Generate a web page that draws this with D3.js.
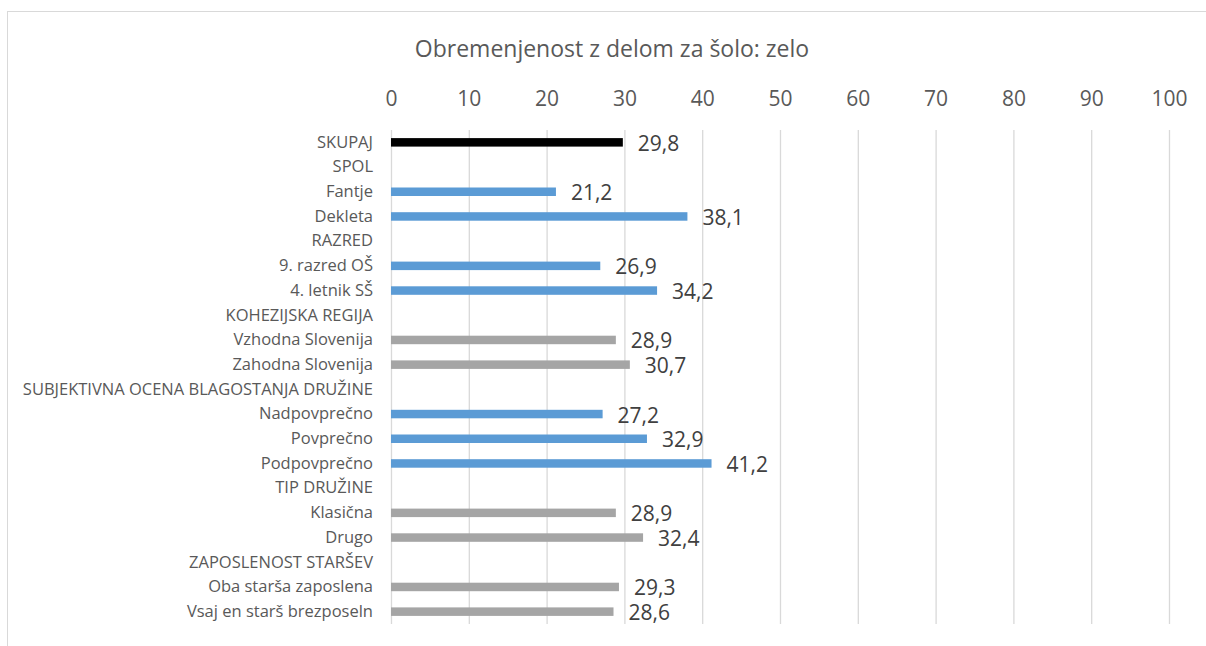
<!DOCTYPE html>
<html>
<head>
<meta charset="utf-8">
<script src="https://cdn.jsdelivr.net/npm/d3@7"></script>
<style>
  body { margin: 0; background: #fff; }
  text { font-family: "Open Sans", sans-serif; }
</style>
</head>
<body>
<script>
var categories = ["SKUPAJ", "SPOL", "Fantje", "Dekleta", "RAZRED", "9. razred OŠ", "4. letnik SŠ",
  "KOHEZIJSKA REGIJA", "Vzhodna Slovenija", "Zahodna Slovenija",
  "SUBJEKTIVNA OCENA BLAGOSTANJA DRUŽINE", "Nadpovprečno", "Povprečno", "Podpovprečno",
  "TIP DRUŽINE", "Klasična", "Drugo", "ZAPOSLENOST STARŠEV", "Oba starša zaposlena", "Vsaj en starš brezposeln"];
var values = [29.8, null, 21.2, 38.1, null, 26.9, 34.2, null, 28.9, 30.7, null, 27.2, 32.9, 41.2, null, 28.9, 32.4, null, 29.3, 28.6];
var groups = ["total", null, "blue", "blue", null, "blue", "blue", null, "gray", "gray", null, "blue", "blue", "blue", null, "gray", "gray", null, "gray", "gray"];
var ticks = [0, 10, 20, 30, 40, 50, 60, 70, 80, 90, 100];

var colors = { total: "#000000", blue: "#5B9BD5", gray: "#A5A5A5" };

var width = 1206, height = 646;
var svg = d3.select("body").append("svg").attr("width", width).attr("height", height);

// chart border
svg.append("rect").attr("x", 7.5).attr("y", 11.5).attr("width", 1210).attr("height", 650)
  .attr("fill", "none").attr("stroke", "#D9D9D9").attr("stroke-width", 1);

svg.append("text").attr("x", 612).attr("y", 57).attr("text-anchor", "middle")
  .style("font-size", "23px").style("fill", "#595959")
  .text("Obremenjenost z delom za šolo: zelo");

var x = d3.scaleLinear().domain([0, 100]).range([391, 1169]);
var y = d3.scaleBand().domain(categories).range([130, 624]);

// gridlines
svg.selectAll(".grid").data(ticks).enter().append("line")
  .attr("x1", function(d) { return x(d) + 0.5; })
  .attr("x2", function(d) { return x(d) + 0.5; })
  .attr("y1", 130).attr("y2", 624)
  .attr("stroke", "#D9D9D9").attr("stroke-width", 1.3);

// top axis labels
var axis = svg.append("g").attr("transform", "translate(0,106)")
  .call(d3.axisTop(x).tickValues(ticks).tickSize(0).tickPadding(0).tickFormat(d3.format("d")));
axis.select(".domain").remove();
axis.selectAll("text").style("font-size", "21px").style("fill", "#595959")
  .style("font-family", "'Open Sans', sans-serif");

// category labels
var yAxis = svg.append("g").attr("transform", "translate(373,0)")
  .call(d3.axisLeft(y).tickSize(0).tickPadding(0));
yAxis.select(".domain").remove();
yAxis.selectAll("text").style("font-size", "16.5px").style("fill", "#595959")
  .style("font-family", "'Open Sans', sans-serif");

var rows = categories.map(function(c, i) { return { cat: c, v: values[i], g: groups[i] }; })
  .filter(function(d) { return d.v !== null; });

var barH = 8.5;
svg.selectAll(".bar").data(rows).enter().append("rect")
  .attr("x", x(0))
  .attr("y", function(d) { return y(d.cat) + y.bandwidth() / 2 - barH / 2; })
  .attr("width", function(d) { return x(d.v) - x(0); })
  .attr("height", barH)
  .attr("fill", function(d) { return colors[d.g]; });

svg.selectAll(".val").data(rows).enter().append("text")
  .attr("x", function(d) { return x(d.v) + 15; })
  .attr("y", function(d) { return y(d.cat) + y.bandwidth() / 2 + 8.5; })
  .style("font-size", "21px").style("fill", "#404040")
  .text(function(d) { return d3.format(".1f")(d.v).replace(".", ","); });
</script>
</body>
</html>
